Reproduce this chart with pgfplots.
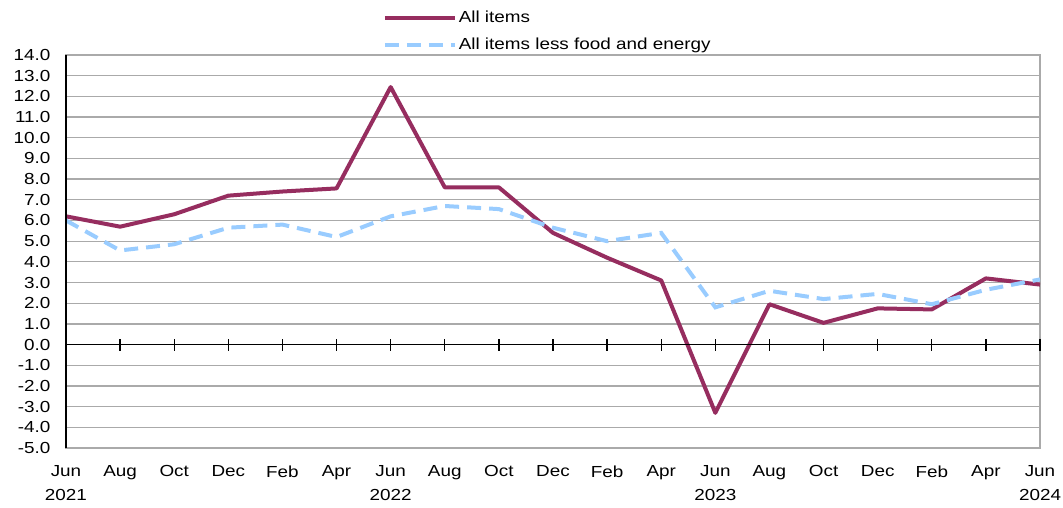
\documentclass[border=0pt]{standalone}
\usepackage{fontspec}
\setmainfont{Liberation Sans}[FakeStretch=1.18]
\usepackage{pgfplots}
\pgfplotsset{compat=1.18}
\definecolor{allitems}{RGB}{150,45,95}
\definecolor{coreblue}{RGB}{153,204,255}
\definecolor{gridgray}{RGB}{170,170,170}

\pgfplotsset{cpibase/.style={
    width=974pt, height=393pt, scale only axis,
    at={(66pt,59pt)}, anchor=south west,
    xmin=0, xmax=18, ymin=-5, ymax=14,
  }}

\begin{document}
\fontsize{16}{23}\selectfont
\begin{tikzpicture}
\useasboundingbox (0,0) rectangle (1063pt,507pt);
\begin{axis}[
    cpibase,
    axis line style={gridgray, line width=1.3pt},
    ymajorgrids, grid style={gridgray, line width=1.3pt},
    ytick={-5,-4,...,14},
    xtick={0,...,18},
    major tick length=0pt,
    xticklabels={Jun\\2021,Aug,Oct,Dec,Feb,Apr,Jun\\2022,Aug,Oct,Dec,Feb,Apr,Jun\\2023,Aug,Oct,Dec,Feb,Apr,Jun\\2024},
    xticklabel style={align=center, yshift=-12pt, font=\fontsize{16}{24}\selectfont},
    yticklabel style={xshift=-10pt, font=\fontsize{16}{20}\selectfont},
    /pgf/number format/.cd, fixed, fixed zerofill, precision=1, assume math mode=true,
    /pgfplots/.cd,
    legend style={at={(0.324,1.12)}, anchor=north west, draw=none, fill=none,
      font=\fontsize{16}{19}\selectfont, row sep=9pt, inner sep=1pt},
    legend cell align=left,
    legend image code/.code={\draw[#1] (0pt,0pt) -- (70pt,0pt);},
  ]
  \addplot[allitems, line width=4pt, line join=round] coordinates {
    (0,6.2) (1,5.7) (2,6.3) (3,7.2) (4,7.4) (5,7.55) (6,12.45) (7,7.6) (8,7.6)
    (9,5.4) (10,4.2) (11,3.1) (12,-3.3) (13,1.95) (14,1.05) (15,1.75) (16,1.7)
    (17,3.2) (18,2.9)};
  \addlegendentry{All items}
  \addplot[coreblue, line width=4pt, dash pattern=on 14pt off 8pt] coordinates {
    (0,6.0) (1,4.55) (2,4.85) (3,5.65) (4,5.8) (5,5.2) (6,6.2) (7,6.7) (8,6.55)
    (9,5.65) (10,5.0) (11,5.4) (12,1.8) (13,2.6) (14,2.2) (15,2.45) (16,1.95)
    (17,2.65) (18,3.15)};
  \addlegendentry{All items less food and energy}
  \node[anchor=west, font=\fontsize{16}{20}\selectfont] at (rel axis cs:-0.054,1.058) {Percent change};
\end{axis}
\begin{axis}[
    cpibase,
    axis x line=middle, axis y line=left,
    axis line style={-},
    x axis line style={black, line width=1.5pt},
    y axis line style={black, line width=2pt},
    xtick={1,...,18}, ytick=\empty,
    xticklabels={}, tick align=center,
    major tick length=12pt,
    tick style={black, line width=1.3pt},
  ]
\end{axis}
\end{tikzpicture}
\end{document}
